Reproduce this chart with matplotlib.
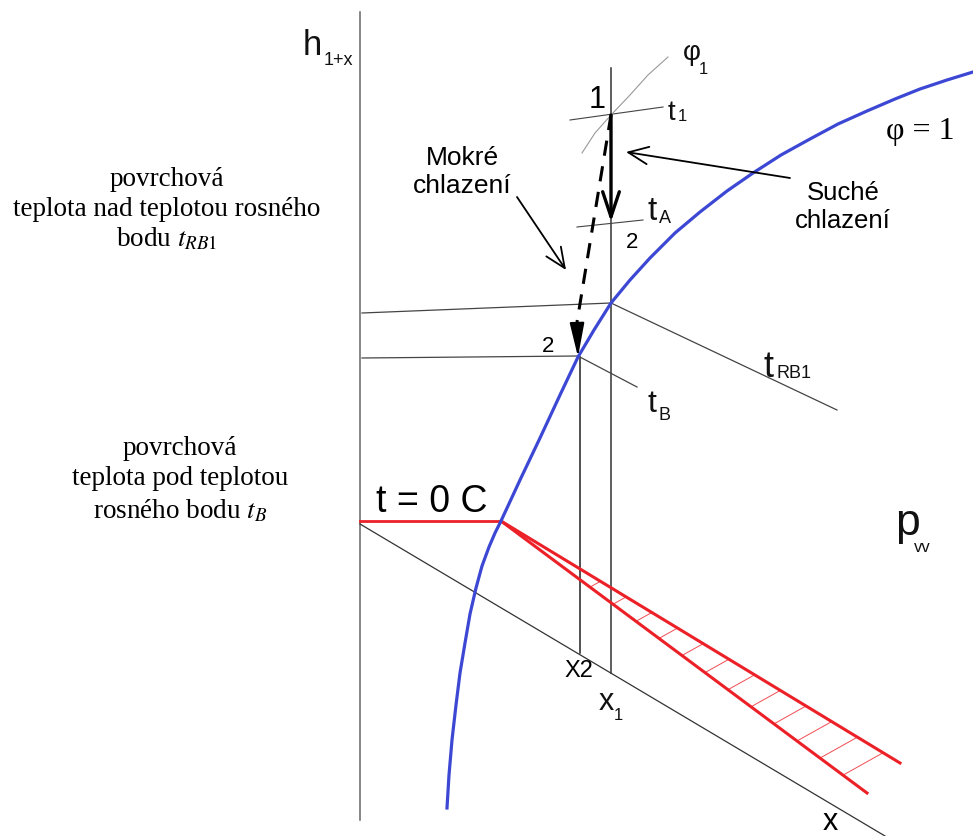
import numpy as np
from matplotlib import pyplot as plt

plt.rcParams['font.family'] = ['Liberation Sans', 'DejaVu Sans']
plt.rcParams['mathtext.fontset'] = 'stix'

# key points of the sketch (picture coordinates, y grows downwards)
hAxisX = 360
hAxisTop, hAxisBottom = 12, 820
x1 = 611
x2 = 580
point1 = (611, 115)
point2dry = (611, 222)
point2wet = (578, 357)
dewPoint1 = (611, 303)

# saturation curve phi = 1
satX = [447, 449, 452, 456, 460, 465, 470, 476, 482, 489, 495, 501, 520, 540, 560, 578, 594,
        611, 630, 650, 675, 700, 727, 753, 781, 810, 838, 867, 895, 920, 947, 973]
satY = [808, 775, 740, 705, 673, 643, 614, 588, 566, 547, 533, 521, 480, 438, 395, 357, 330,
        303, 280, 258, 233, 212, 191, 173, 155, 139, 124, 111, 99, 89, 80, 72]

# relative humidity phi_1 (thin curve through point 1)
phi1X = [582, 595, 611, 630, 648, 668]
phi1Y = [153, 133, 115, 95, 75, 57]

# isotherms
t1X, t1Y = [570, 663], [120, 107]
tAX, tAY = [577, 643], [227, 220]
tRB1X, tRB1Y = [362, 611, 837], [313, 303, 410]
tBX, tBY = [362, 578, 637], [358, 356, 387]
baseX, baseY = [360, 885], [524, 836]

# ice region t = 0 C
zeroX, zeroY = [360, 501], [521, 521]
iceUpperEnd = (900, 763)
iceLowerEnd = (867, 793)
hatchX = [590, 613, 636, 659, 682, 705, 728, 751, 774, 797, 820, 843]

blue = '#3c48d4'
red = '#ec2128'

fig = plt.figure(figsize=(9.73, 8.36), dpi=100)
ax = fig.add_axes([0, 0, 1, 1])
ax.set_xlim(0, 973)
ax.set_ylim(836, 0)
ax.axis('off')

# axes of the diagram
ax.plot([hAxisX, hAxisX], [hAxisTop, hAxisBottom], color='#666666', lw=1.1)
ax.plot(baseX, baseY, color='#333333', lw=0.9)
ax.plot([x1, x1], [68, 673], color='#333333', lw=1.1)
ax.plot([x2, x2], [point2wet[1], 653], color='#222222', lw=1.1)

# isotherms
ax.plot(tRB1X, tRB1Y, color='#444444', lw=0.9)
ax.plot(tBX, tBY, color='#444444', lw=0.9)
ax.plot(t1X, t1Y, color='#444444', lw=0.8)
ax.plot(tAX, tAY, color='#444444', lw=0.8)
ax.plot(phi1X, phi1Y, color='#999999', lw=0.8)

# ice fog lines + hatching
corner = (zeroX[1], zeroY[1])
ax.plot(zeroX, zeroY, color=red, lw=2)
ax.plot([corner[0], iceUpperEnd[0]], [corner[1], iceUpperEnd[1]], color=red, lw=2.2)
ax.plot([corner[0], iceLowerEnd[0]], [corner[1], iceLowerEnd[1]], color=red, lw=2.2)
ax.plot([corner[0], 640], [corner[1], 606], color=red, lw=0.7)
sUp = (iceUpperEnd[1] - corner[1]) / (iceUpperEnd[0] - corner[0])
sLo = (iceLowerEnd[1] - corner[1]) / (iceLowerEnd[0] - corner[0])
for hx in hatchX:
    hy = corner[1] + sLo * (hx - corner[0])
    t = (sLo - sUp) * (hx - corner[0]) / (19 + 34 * sUp)
    ax.plot([hx, hx + 34 * t], [hy, hy - 19 * t], color=red, lw=0.7, alpha=0.8)

# saturation curve
ax.plot(satX, satY, color=blue, lw=2.3, solid_joinstyle='round')

# dry cooling 1 -> 2
ax.annotate('', xy=point2dry, xytext=point1,
            arrowprops=dict(arrowstyle='->,head_length=0.9,head_width=0.3', lw=2.4,
                            color='black', mutation_scale=20, shrinkA=0, shrinkB=0))
# wet cooling 1 -> 2 (dashed)
ax.plot([point1[0], 577], [point1[1], 322], color='black', lw=2.2, dashes=(5, 3.5))
ax.annotate('', xy=point2wet, xytext=(577, 322),
            arrowprops=dict(arrowstyle='-|>,head_length=1.4,head_width=0.3', lw=1.5,
                            color='black', mutation_scale=15, shrinkA=0, shrinkB=0))

# pointer arrows
ax.annotate('', xy=(566, 270), xytext=(517, 197),
            arrowprops=dict(arrowstyle='->,head_length=0.8,head_width=0.35', lw=1.3,
                            color='black', mutation_scale=18, shrinkA=0, shrinkB=0))
ax.annotate('', xy=(626, 152), xytext=(790, 178),
            arrowprops=dict(arrowstyle='->,head_length=0.8,head_width=0.35', lw=1.3,
                            color='black', mutation_scale=18, shrinkA=0, shrinkB=0))


def label(x, y, main, sub, size=21, subsize=12, dx=14, dy=2):
    ax.text(x, y, main, fontsize=size, ha='left', va='baseline', color='#111111')
    ax.text(x + dx, y + dy, sub, fontsize=subsize, ha='left', va='baseline', color='#111111')


label(303, 55, 'h', '1+x', size=25, subsize=13, dx=21, dy=10)
label(668, 120, 't', '1', size=20, subsize=12, dx=10, dy=1)
label(683, 60, 'φ', '1', size=20, subsize=12, dx=16, dy=14)
label(647, 220, 't', 'A', size=24, subsize=13, dx=12, dy=3)
label(763, 377, 't', 'RB1', size=26, subsize=13, dx=14, dy=1)
label(647, 412, 't', 'B', size=23, subsize=13, dx=12, dy=8)
label(895, 535, 'p', 'vv', size=32, subsize=12, dx=19, dy=17)
label(599, 710, 'x', '1', size=22, subsize=12, dx=15, dy=10)

ax.text(597, 108, '1', fontsize=22, ha='center', va='baseline')
ax.text(632, 248, '2', fontsize=16, ha='center', va='baseline')
ax.text(548, 352, '2', fontsize=16, ha='center', va='baseline')
ax.text(579, 677, 'X2', fontsize=17, ha='center', va='baseline')
ax.text(830, 830, 'x', fontsize=22, ha='center', va='baseline')
ax.text(432, 512, 't = 0 C', fontsize=27, ha='center', va='baseline')
ax.text(920, 139, 'φ = 1', fontsize=23, ha='center', va='baseline', family='Liberation Serif')

ax.text(462, 172, 'Mokré\nchlazení', fontsize=19, ha='center', va='center', linespacing=1.2)
ax.text(843, 207, 'Suché\nchlazení', fontsize=18.5, ha='center', va='center', linespacing=1.25)

ax.text(167, 210, 'povrchová\nteplota nad teplotou rosného\nbodu $t_{RB\\mathit{1}}$',
        fontsize=19.5, family='Liberation Serif', ha='center', va='center',
        multialignment='center', linespacing=1.22)
ax.text(180, 480, 'povrchová\nteplota pod teplotou\nrosného bodu $t_B$',
        fontsize=19.5, family='Liberation Serif', ha='center', va='center',
        multialignment='center', linespacing=1.29)

plt.savefig('out.png', dpi=100)
